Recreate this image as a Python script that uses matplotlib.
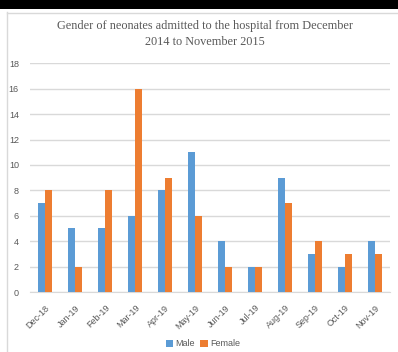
import matplotlib.pyplot as plt
import numpy as np
from matplotlib.patches import Rectangle
from matplotlib.lines import Line2D

# Monthly admissions by gender
months = ['Dec-18', 'Jan-19', 'Feb-19', 'Mar-19', 'Apr-19', 'May-19',
          'Jun-19', 'Jul-19', 'Aug-19', 'Sep-19', 'Oct-19', 'Nov-19']
male = [7, 5, 5, 6, 8, 11, 4, 2, 9, 3, 2, 4]
female = [8, 2, 8, 16, 9, 6, 2, 2, 7, 4, 3, 3]

W, H = 398, 352
fig = plt.figure(figsize=(W / 100, H / 100), dpi=100)
fig.patch.set_facecolor('white')

# dark strip along the top edge and the light chart frame
fig.add_artist(Rectangle((0, 1 - 9 / H), 1, 9 / H, transform=fig.transFigure,
                         facecolor='black', edgecolor='none'))
fig.add_artist(Line2D([7.5 / W, 7.5 / W], [0, 1 - 12 / H], transform=fig.transFigure,
                      color='#d9d9d9', lw=1))
fig.add_artist(Line2D([7.5 / W, 1], [1 - 12.5 / H, 1 - 12.5 / H], transform=fig.transFigure,
                      color='#d9d9d9', lw=1))

ax = fig.add_axes([30 / W, 60 / H, 360 / W, 228.7 / H])
x = np.arange(len(months))
bw = 0.235
ax.bar(x - 0.125, male, bw, color='#5b9bd5', label='Male', zorder=3)
ax.bar(x + 0.125, female, bw, color='#ed7d31', label='Female', zorder=3)

ax.set_xlim(-0.5, len(months) - 0.5)
ax.set_ylim(0, 18)
ax.set_yticks(range(0, 19, 2))
ax.yaxis.grid(True, color='#d9d9d9', lw=1)
ax.set_axisbelow(True)
for s in ['top', 'right', 'left']:
    ax.spines[s].set_visible(False)
ax.spines['bottom'].set_color('#d9d9d9')
ax.tick_params(length=0, colors='#595959', labelsize=6.5)
ax.tick_params(axis='y', pad=8)
ax.tick_params(axis='x', pad=8)
ax.set_xticks(x)
ax.set_xticklabels(months, rotation=45, ha='right', rotation_mode='anchor',
                   fontfamily='Liberation Sans')
for lbl in ax.get_yticklabels():
    lbl.set_fontfamily('Liberation Sans')

fig.text(0.5 + 6 / W, 1 - 34 / H, 'Gender of neonates admitted to the hospital from December\n2014 to November 2015',
         ha='center', va='center', fontsize=8.8, fontfamily='Liberation Serif',
         color='#595959', linespacing=1.35)

fig.legend(loc='center', bbox_to_anchor=(0.5 + 4 / W, 1 - 344 / H), ncol=2, frameon=False,
           prop={'family': 'Liberation Sans', 'size': 6.5}, labelcolor='#595959',
           handlelength=0.8, handleheight=0.8, handletextpad=0.3, columnspacing=0.6)

fig.savefig('out.png', dpi=100)
